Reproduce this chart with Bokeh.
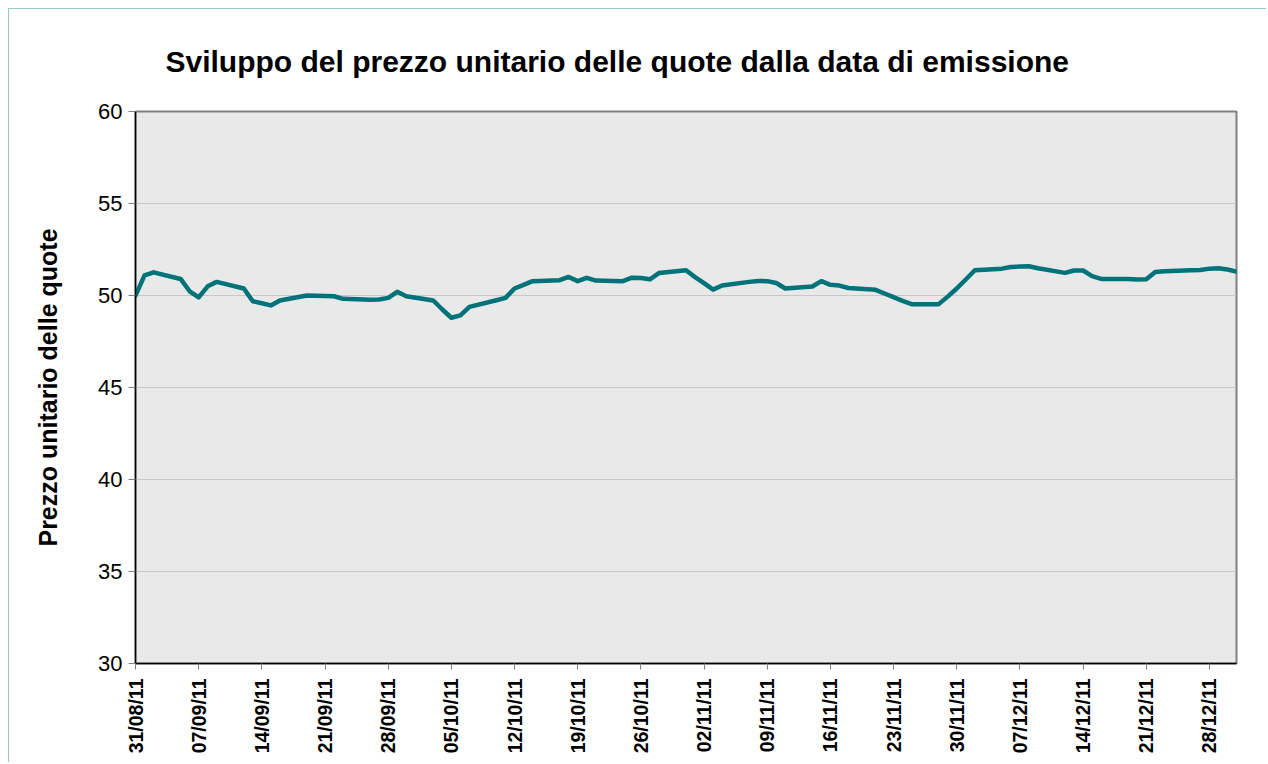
import pandas as pd
from bokeh.plotting import figure
from bokeh.models import FixedTicker, DatetimeTickFormatter, Range1d
from bokeh.embed import file_html
from bokeh.resources import INLINE

# ---- data ----
dates = [
    "2011-08-31", "2011-09-01", "2011-09-02", "2011-09-05", "2011-09-06", "2011-09-07",
    "2011-09-08", "2011-09-09", "2011-09-12", "2011-09-13", "2011-09-14", "2011-09-15",
    "2011-09-16", "2011-09-19", "2011-09-20", "2011-09-21", "2011-09-22", "2011-09-23",
    "2011-09-26", "2011-09-27", "2011-09-28", "2011-09-29", "2011-09-30", "2011-10-03",
    "2011-10-04", "2011-10-05", "2011-10-06", "2011-10-07", "2011-10-10", "2011-10-11",
    "2011-10-12", "2011-10-13", "2011-10-14", "2011-10-17", "2011-10-18", "2011-10-19",
    "2011-10-20", "2011-10-21", "2011-10-24", "2011-10-25", "2011-10-26", "2011-10-27",
    "2011-10-28", "2011-10-31", "2011-11-01", "2011-11-02", "2011-11-03", "2011-11-04",
    "2011-11-07", "2011-11-08", "2011-11-09", "2011-11-10", "2011-11-11", "2011-11-14",
    "2011-11-15", "2011-11-16", "2011-11-17", "2011-11-18", "2011-11-21", "2011-11-22",
    "2011-11-23", "2011-11-24", "2011-11-25", "2011-11-28", "2011-11-29", "2011-11-30",
    "2011-12-01", "2011-12-02", "2011-12-05", "2011-12-06", "2011-12-07", "2011-12-08",
    "2011-12-09", "2011-12-12", "2011-12-13", "2011-12-14", "2011-12-15", "2011-12-16",
    "2011-12-19", "2011-12-20", "2011-12-21", "2011-12-22", "2011-12-23", "2011-12-26",
    "2011-12-27", "2011-12-28", "2011-12-29", "2011-12-30", "2011-12-31",
]
prices = [
    50.00, 51.09, 51.26, 50.90, 50.23, 49.90,
    50.50, 50.74, 50.38, 49.69, 49.58, 49.46,
    49.73, 50.00, 49.98, 49.97, 49.96, 49.82,
    49.77, 49.78, 49.87, 50.20, 49.96, 49.73,
    49.24, 48.79, 48.92, 49.38, 49.74, 49.87,
    50.38, 50.58, 50.78, 50.83, 51.01, 50.78,
    50.96, 50.81, 50.78, 50.97, 50.95, 50.88,
    51.22, 51.37, 51.00, 50.67, 50.32, 50.54,
    50.74, 50.79, 50.78, 50.68, 50.38, 50.49,
    50.78, 50.58, 50.54, 50.41, 50.31, 50.11,
    49.91, 49.71, 49.53, 49.53, 49.94, 50.38,
    50.87, 51.37, 51.46, 51.55, 51.57, 51.59,
    51.48, 51.23, 51.36, 51.36, 51.05, 50.90,
    50.90, 50.87, 50.88, 51.28, 51.32, 51.37,
    51.39, 51.46, 51.48, 51.41, 51.30,
]
tick_dates = [
    "2011-08-31", "2011-09-07", "2011-09-14", "2011-09-21", "2011-09-28",
    "2011-10-05", "2011-10-12", "2011-10-19", "2011-10-26", "2011-11-02",
    "2011-11-09", "2011-11-16", "2011-11-23", "2011-11-30", "2011-12-07",
    "2011-12-14", "2011-12-21", "2011-12-28",
]
y_ticks = [30, 35, 40, 45, 50, 55, 60]

title_text = "Sviluppo del prezzo unitario delle quote dalla data di emissione"
y_label = "Prezzo unitario delle quote"

FONT = "Liberation Sans"

x = pd.to_datetime(dates)
tick_ms = [pd.Timestamp(d).value // 10**6 for d in tick_dates]

p = figure(
    width=1258, height=754,
    x_axis_type="datetime",
    output_backend="svg", toolbar_location=None,
    min_border_left=126, min_border_right=31,
    min_border_top=101, min_border_bottom=100,
)
p.styles = {
    "border-top": "1px solid #93c9c9", "border-left": "1px solid #93c9c9",
    "margin-left": "8px", "margin-top": "8px",
}

p.x_range = Range1d(pd.Timestamp("2011-08-31"), pd.Timestamp("2011-12-31"))
p.y_range = Range1d(30, 60)

p.line(x, prices, line_color="#00737a", line_width=4.5, line_join="round", line_cap="round")

# title
p.title.text = title_text
p.title.text_font = FONT
p.title.text_font_size = "30px"
p.title.text_font_style = "bold"
p.title.text_color = "black"
p.title.align = "left"
p.title.offset = 30
p.title.standoff = 67

# frame
p.background_fill_color = "#e9e9e9"
p.border_fill_color = "white"
p.outline_line_color = "#808080"
p.outline_line_width = 2

# grid
p.xgrid.grid_line_color = None
p.ygrid.grid_line_color = "#c8c8c8"
p.ygrid.grid_line_width = 1
p.ygrid.ticker = FixedTicker(ticks=y_ticks)

# y axis
ya = p.yaxis[0]
ya.ticker = FixedTicker(ticks=y_ticks)
ya.axis_label = y_label
ya.axis_label_text_font = FONT
ya.axis_label_text_font_size = "25px"
ya.axis_label_text_font_style = "bold"
ya.axis_label_text_color = "black"
ya.axis_label_standoff = 33
ya.major_label_text_font = FONT
ya.major_label_text_font_size = "22px"
ya.major_label_text_color = "black"
ya.major_label_standoff = 6
ya.major_tick_out = 7
ya.major_tick_in = 0
ya.minor_tick_out = 0
ya.minor_tick_in = 0
ya.axis_line_color = "black"
ya.axis_line_width = 1.5
ya.major_tick_line_color = "#808080"

# x axis
xa = p.xaxis[0]
xa.ticker = FixedTicker(ticks=tick_ms)
fmt = "%d/%m/%y"
xa.formatter = DatetimeTickFormatter(
    microseconds=fmt, milliseconds=fmt, seconds=fmt, minsec=fmt, minutes=fmt,
    hourmin=fmt, hours=fmt, days=fmt, months=fmt, years=fmt,
)
xa.major_label_orientation = 1.5707963
xa.major_label_text_font = FONT
xa.major_label_text_font_size = "19.5px"
xa.major_label_text_font_style = "bold"
xa.major_label_text_color = "black"
xa.major_label_standoff = 9
xa.major_tick_out = 6
xa.major_tick_in = 0
xa.minor_tick_out = 0
xa.minor_tick_in = 0
xa.axis_line_color = "black"
xa.axis_line_width = 1.5
xa.major_tick_line_color = "#808080"

open("out.html", "w").write(file_html(p, INLINE))
